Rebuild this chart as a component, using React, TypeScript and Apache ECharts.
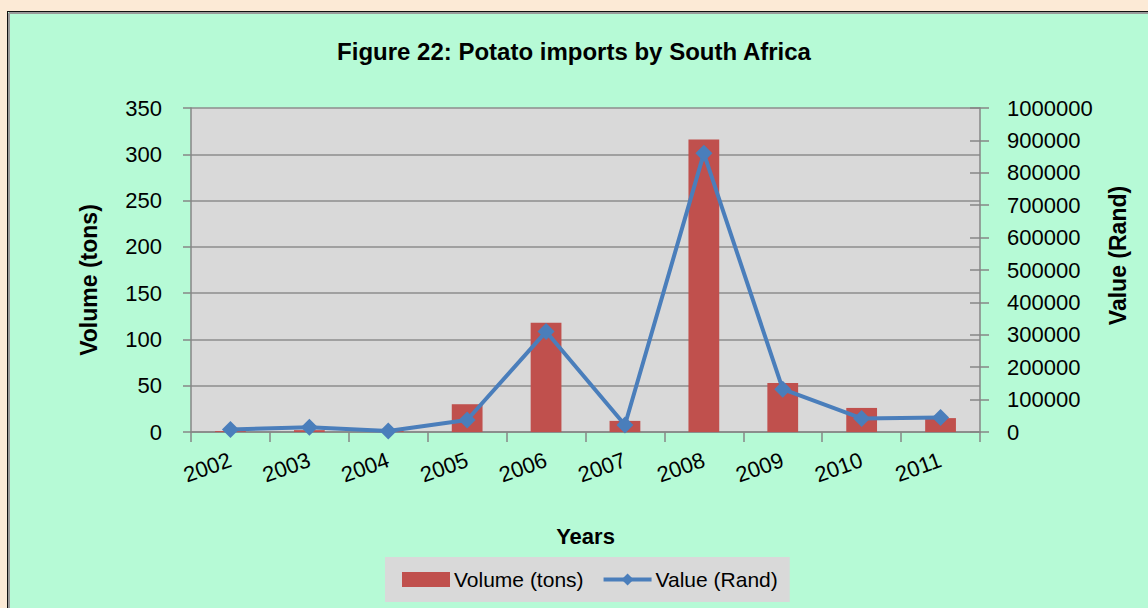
import React, { useEffect, useRef } from "react";
import * as echarts from "echarts";

const years = ["2002", "2003", "2004", "2005", "2006", "2007", "2008", "2009", "2010", "2011"];
const volumeTons = [1, 2, 1, 30, 118, 12, 316, 53, 26, 15];
const valueRand = [8000, 14500, 3000, 37000, 310000, 21600, 860000, 132000, 42000, 45000];

const FONT = "'Liberation Sans', Arial, sans-serif";

export default function App() {
  const ref = useRef<HTMLDivElement>(null);
  useEffect(() => {
    if (!ref.current) return;
    const chart = echarts.init(ref.current, undefined, { renderer: "svg" });
    const plain = (v: number) => String(v);
    chart.setOption({
      animation: false,
      backgroundColor: "#fcead6",
      textStyle: { fontFamily: FONT },
      graphic: [
        { type: "rect", shape: { x: 7, y: 11, width: 1148, height: 600 }, style: { fill: "#b6fad6" }, z: -10, silent: true },
        { type: "line", shape: { x1: 7, y1: 11.5, x2: 1148, y2: 11.5 }, style: { stroke: "#111", lineWidth: 1 }, z: -9 },
        { type: "line", shape: { x1: 9, y1: 13, x2: 1148, y2: 13 }, style: { stroke: "#9a9a9a", lineWidth: 2 }, z: -9 },
        { type: "line", shape: { x1: 7.5, y1: 11, x2: 7.5, y2: 608 }, style: { stroke: "#111", lineWidth: 1 }, z: -9 },
        { type: "line", shape: { x1: 9, y1: 13, x2: 9, y2: 608 }, style: { stroke: "#9a9a9a", lineWidth: 2 }, z: -9 },
      ],
      title: {
        text: "Figure 22: Potato imports by South Africa",
        left: "center",
        top: 34,
        textStyle: { fontFamily: FONT, fontSize: 24, fontWeight: "bold", color: "#000" },
      },
      legend: {
        left: 385,
        top: 557,
        padding: [12, 12, 12, 17],
        itemGap: 18,
        itemWidth: 48,
        itemHeight: 15,
        backgroundColor: "#d9d9d9",
        lineStyle: { width: 4 },
        textStyle: { fontFamily: FONT, fontSize: 21, color: "#000", padding: [0, 0, 0, -1] },
        data: [
          { name: "Volume (tons)", icon: "rect" },
          { name: "Value (Rand)" },
        ],
      },
      grid: {
        left: 191,
        right: 168,
        top: 108,
        bottom: 176,
        show: true,
        backgroundColor: "#d9d9d9",
        borderWidth: 0,
        outerBoundsMode: "none",
        containLabel: false,
      },
      xAxis: {
        type: "category",
        data: years,
        boundaryGap: true,
        name: "Years",
        nameLocation: "middle",
        nameGap: 93,
        nameMoveOverlap: false,
        nameTextStyle: { fontFamily: FONT, fontSize: 22, fontWeight: "bold", color: "#000" },
        axisLine: { lineStyle: { color: "#868686", width: 1.5 } },
        axisTick: { show: true, length: 10, alignWithLabel: false, lineStyle: { color: "#868686", width: 1.5 } },
        axisLabel: { rotate: 20, margin: 27, fontFamily: FONT, fontSize: 22, color: "#000", interval: 0 },
      },
      yAxis: [
        {
          type: "value",
          min: 0,
          max: 350,
          interval: 50,
          position: "left",
          name: "Volume (tons)",
          nameLocation: "middle",
          nameGap: 91,
          nameRotate: 90,
          nameMoveOverlap: false,
          nameTextStyle: { fontFamily: FONT, fontSize: 23, fontWeight: "bold", color: "#000", padding: [0, 20, 0, 0] },
          axisLine: { show: true, lineStyle: { color: "#868686", width: 1.5 } },
          axisTick: { show: true, length: 8, lineStyle: { color: "#868686", width: 1.5 } },
          axisLabel: { margin: 29, fontFamily: FONT, fontSize: 22, color: "#000", formatter: plain },
          splitLine: { show: true, lineStyle: { color: "#8c8c8c", width: 1.5 } },
        },
        {
          type: "value",
          min: 0,
          max: 1000000,
          interval: 100000,
          position: "right",
          name: "Value (Rand)",
          nameLocation: "middle",
          nameGap: 126,
          nameRotate: 90,
          nameMoveOverlap: false,
          nameTextStyle: { fontFamily: FONT, fontSize: 23, fontWeight: "bold", color: "#000", padding: [0, 0, 0, 29] },
          axisLine: { show: true, lineStyle: { color: "#868686", width: 1.5 } },
          axisTick: { show: true, length: 9, lineStyle: { color: "#868686", width: 1.5 } },
          axisLabel: { margin: 27, fontFamily: FONT, fontSize: 22, color: "#000", formatter: plain },
          splitLine: { show: false },
        },
        {
          type: "value",
          min: 0,
          max: 1000000,
          interval: 100000,
          position: "right",
          axisLine: { show: false },
          axisTick: { show: true, inside: true, length: 10, lineStyle: { color: "#868686", width: 1.5 } },
          axisLabel: { show: false },
          splitLine: { show: false },
        },
      ],
      series: [
        {
          name: "Volume (tons)",
          type: "bar",
          yAxisIndex: 0,
          data: volumeTons,
          barWidth: "39%",
          itemStyle: { color: "#c0504d" },
        },
        {
          name: "Value (Rand)",
          type: "line",
          yAxisIndex: 1,
          data: valueRand,
          symbol: "diamond",
          symbolSize: 17,
          lineStyle: { color: "#4a7ebb", width: 4 },
          itemStyle: { color: "#4a7ebb" },
          z: 5,
        },
      ],
    });
    return () => chart.dispose();
  }, []);
  return <div ref={ref} style={{ position: "fixed", left: 0, top: 0, width: 1148, height: 608 }} />;
}
